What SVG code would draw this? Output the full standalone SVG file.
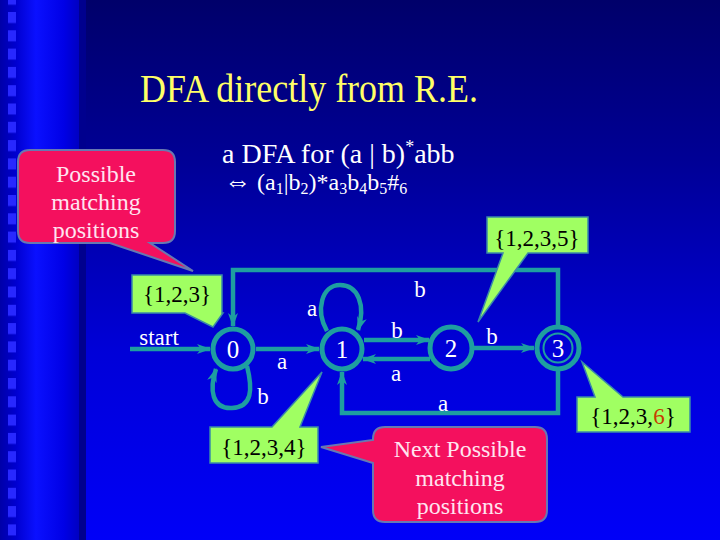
<svg xmlns="http://www.w3.org/2000/svg" width="720" height="540" viewBox="0 0 720 540">
<defs>
<linearGradient id="bg" x1="0" y1="0" x2="0" y2="1">
<stop offset="0" stop-color="#00006a"/>
<stop offset="0.3" stop-color="#000096"/>
<stop offset="0.65" stop-color="#0000d8"/>
<stop offset="1" stop-color="#0000f8"/>
</linearGradient>
<linearGradient id="band" x1="0" y1="0" x2="1" y2="0">
<stop offset="0" stop-color="#0000a8"/>
<stop offset="0.2" stop-color="#0000d0"/>
<stop offset="0.45" stop-color="#0a10ff"/>
<stop offset="0.8" stop-color="#0000e6"/>
<stop offset="1" stop-color="#0000c0"/>
</linearGradient>
<pattern id="sq" x="0" y="12" width="20" height="18.3" patternUnits="userSpaceOnUse">
<rect x="8" y="0" width="8" height="11" fill="#2828ff"/>
</pattern>
<marker id="ah" viewBox="0 0 14 10" refX="13" refY="5" markerWidth="14" markerHeight="10" markerUnits="userSpaceOnUse" orient="auto">
<path d="M0,0 L14,5 L0,10 L4,5 Z" fill="#1e9ea0"/>
</marker>
<style>
.edge{fill:none;stroke:#1e9ea0;stroke-width:4.5}
.state{fill:none;stroke:#1e9ea0;stroke-width:5}
.lbl{font-family:"Liberation Serif","Times New Roman",serif;fill:#ffffff;font-size:23px;text-anchor:middle}
.slbl{font-family:"Liberation Serif","Times New Roman",serif;fill:#ffffff;font-size:25px;text-anchor:middle}
.gbox{fill:#a0ff62;stroke:#3a8aa8;stroke-width:1.5}
.gtxt{font-family:"Liberation Serif","Times New Roman",serif;fill:#000000;font-size:23px;text-anchor:middle}
.pbox{fill:#f4105e;stroke:#6878b0;stroke-width:2}
.ptxt{font-family:"Liberation Serif","Times New Roman",serif;fill:#ffe4f0;font-size:24px;text-anchor:middle}
</style>
</defs>
<rect x="0" y="0" width="720" height="540" fill="url(#bg)"/>
<rect x="0" y="0" width="80" height="540" fill="url(#band)"/>
<rect x="0" y="0" width="20" height="540" fill="url(#sq)"/>
<rect x="79" y="0" width="7" height="540" fill="#00008e"/>

<text x="140" y="102" font-family="Liberation Serif, Times New Roman, serif" font-size="39" fill="#ffff66" textLength="338" lengthAdjust="spacingAndGlyphs">DFA directly from R.E.</text>
<text x="222" y="163" font-family="Liberation Serif, Times New Roman, serif" font-size="28" fill="#ffffff">a DFA for (a | b)<tspan dy="-10" font-size="18">*</tspan><tspan dy="10">abb</tspan></text>
<text x="224" y="190" font-family="Liberation Serif, Times New Roman, serif" font-size="24" fill="#ffffff"><tspan font-size="27">⇔</tspan> (a<tspan dy="4" font-size="16">1</tspan><tspan dy="-4">|b</tspan><tspan dy="4" font-size="16">2</tspan><tspan dy="-4">)*a</tspan><tspan dy="4" font-size="16">3</tspan><tspan dy="-4">b</tspan><tspan dy="4" font-size="16">4</tspan><tspan dy="-4">b</tspan><tspan dy="4" font-size="16">5</tspan><tspan dy="-4">#</tspan><tspan dy="4" font-size="16">6</tspan></text>

<g id="connectors">
<line class="edge" x1="130" y1="349" x2="210" y2="349" marker-end="url(#ah)"/>
<line class="edge" x1="256" y1="349" x2="319" y2="349" marker-end="url(#ah)"/>
<path class="edge" d="M247,366 C253,390 252,407 232,408 C212,409 209,390 216,369" marker-end="url(#ah)"/>
<path class="edge" d="M327,331 C315,310 322,285 340,285 C358,285 366,305 358,330" marker-end="url(#ah)"/>
<line class="edge" x1="364" y1="340" x2="429" y2="340" marker-end="url(#ah)"/>
<line class="edge" x1="430" y1="359" x2="363" y2="359" marker-end="url(#ah)"/>
<line class="edge" x1="474" y1="348" x2="534" y2="348" marker-end="url(#ah)"/>
<path class="edge" d="M558,325 V270 H233 V326" marker-end="url(#ah)"/>
<path class="edge" d="M558,371 V413 H342 V372" marker-end="url(#ah)"/>
<text class="lbl" x="159" y="345">start</text>
<text class="lbl" x="282" y="369">a</text>
<text class="lbl" x="263" y="404">b</text>
<text class="lbl" x="312" y="316">a</text>
<text class="lbl" x="397" y="338">b</text>
<text class="lbl" x="396" y="381">a</text>
<text class="lbl" x="492" y="344">b</text>
<text class="lbl" x="420" y="297">b</text>
<text class="lbl" x="443" y="411">a</text>
</g>

<g id="s0"><circle class="state" cx="233" cy="349" r="20"/><text class="slbl" x="233" y="358">0</text></g>
<g id="s1"><circle class="state" cx="342" cy="349" r="20"/><text class="slbl" x="342" y="358">1</text></g>
<g id="s2"><circle class="state" cx="451" cy="348" r="21"/><text class="slbl" x="451" y="357">2</text></g>
<g id="s3"><circle class="state" cx="558" cy="348" r="21"/><circle cx="558" cy="348" r="14.5" fill="none" stroke="#1e9ea0" stroke-width="2"/><text class="slbl" x="558" y="357">3</text></g>

<g id="callout-possible">
<path class="pbox" d="M30,150 H163 Q175,150 175,162 V231 Q175,243 163,243 H150 L193,271 L110,243 H30 Q18,243 18,231 V162 Q18,150 30,150 Z"/>
<text class="ptxt" x="96" y="182">Possible</text>
<text class="ptxt" x="96" y="210">matching</text>
<text class="ptxt" x="96" y="238">positions</text>
</g>
<g id="callout-next">
<path class="pbox" d="M385,427 H535 Q547,427 547,439 V510 Q547,522 535,522 H385 Q373,522 373,510 V463 L321,447 L373,440 V439 Q373,427 385,427 Z"/>
<text class="ptxt" x="460" y="457">Next Possible</text>
<text class="ptxt" x="460" y="486">matching</text>
<text class="ptxt" x="460" y="514">positions</text>
</g>
<g id="set-123">
<path class="gbox" d="M132,275 H222 V313 H223 L213,327 L185,313 H132 Z"/>
<text class="gtxt" x="177" y="302">{1,2,3}</text>
</g>
<g id="set-1235">
<path class="gbox" d="M487,217 H588 V253 H528 L478,322 L503,253 H487 Z"/>
<text class="gtxt" x="537" y="246">{1,2,3,5}</text>
</g>
<g id="set-1234">
<path class="gbox" d="M210,427 H272 L322,372 L300,427 H318 V463 H210 Z"/>
<text class="gtxt" x="264" y="455">{1,2,3,4}</text>
</g>
<g id="set-1236">
<path class="gbox" d="M577,397 H595 L582,362 L623,397 H690 V432 H577 Z"/>
<text class="gtxt" x="633" y="424">{1,2,3,<tspan fill="#c83c00">6</tspan>}</text>
</g>
</svg>
